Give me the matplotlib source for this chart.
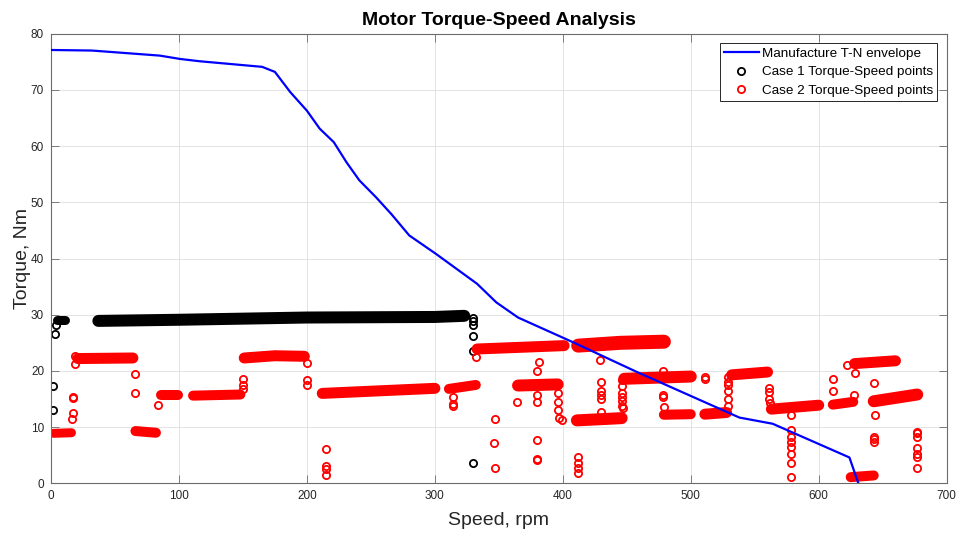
import matplotlib.pyplot as plt
from matplotlib.lines import Line2D

plt.rcParams['font.family'] = ['Liberation Sans', 'DejaVu Sans']

# manufacturer torque-speed envelope
env_rpm = [0, 32, 85, 101, 116, 165, 175, 187, 200, 210, 221, 231, 241, 254,
           266, 280, 301, 333, 348, 365, 408, 458, 538, 564, 624, 631]
env_torque = [77.1, 77.0, 76.1, 75.5, 75.1, 74.1, 73.2, 69.6, 66.3, 63.1, 60.7,
              57.1, 53.9, 50.9, 47.9, 44.1, 40.8, 35.5, 32.2, 29.5, 25.1, 19.8,
              11.7, 10.6, 4.6, 0.0]

# case 1: dense runs of points (traced as bands) + isolated points
case1_band_rpm = [[5, 11], [37, 100, 200, 300, 323]]
case1_band_torque = [[29.0, 29.0], [28.9, 29.1, 29.5, 29.6, 29.8]]
case1_pt_rpm = [1.3, 1.8, 3.1, 4, 330, 330, 330, 330, 330, 330]
case1_pt_torque = [13.0, 17.4, 26.5, 28.2, 29.5, 28.8, 28.2, 26.3, 23.6, 3.6]

# case 2
case2_band_rpm = [[2, 16], [21, 64], [66, 82], [86, 99], [111, 148],
                  [151, 175, 198], [212, 300], [311, 332], [333, 401],
                  [412, 445, 479], [365, 396], [411, 446], [448, 500],
                  [479, 500], [511, 528], [532, 560], [563, 600], [611, 627],
                  [628, 660], [643, 677], [625, 643]]
case2_band_torque = [[8.9, 9.0], [22.2, 22.3], [9.3, 9.0], [15.7, 15.7],
                     [15.6, 15.8], [22.3, 22.7, 22.6], [16.0, 16.9],
                     [16.8, 17.5], [23.9, 24.5], [24.5, 25.0, 25.2],
                     [17.4, 17.6], [11.2, 11.6], [18.6, 19.0], [12.2, 12.3],
                     [12.3, 12.6], [19.3, 19.8], [13.2, 13.9], [14.0, 14.5],
                     [21.3, 21.8], [14.6, 15.8], [1.1, 1.4]]
case2_pt_rpm = [17, 17, 17, 16.5, 18.8, 19,
                65.6, 66, 84, 150, 150, 150, 200, 200, 200,
                215, 215, 215, 215, 314, 314, 314, 332,
                347, 346, 347, 364, 381, 380, 380, 380, 380, 380, 380,
                396.5, 396.5, 396.5, 397, 399, 412, 412, 412, 412,
                429, 430, 430, 430, 430, 430,
                446, 446, 446, 446, 446, 446, 447,
                478.5, 478.5, 479, 478.5, 511, 511,
                529, 529, 529, 529, 529, 529, 561, 561, 561, 562,
                578, 578, 578, 578, 578, 578, 578, 578,
                611.4, 611.4, 627.5, 628, 622,
                643.4, 643.6, 643.4, 643.4, 643.4,
                676.5, 676.5, 676.5, 676.5, 676.5, 676.5, 676.5]
case2_pt_torque = [15.4, 15.2, 12.6, 11.5, 21.2, 22.6,
                   19.4, 16.0, 13.9, 18.5, 17.5, 16.7, 21.4, 18.3, 17.5,
                   6.1, 3.0, 2.5, 1.5, 15.4, 14.2, 13.7, 22.5,
                   11.4, 7.1, 2.7, 14.5, 21.6, 19.9, 15.8, 14.5, 7.7, 4.4, 4.2,
                   16.1, 14.5, 13.0, 11.6, 11.2, 4.7, 3.6, 2.8, 1.8,
                   21.9, 18.1, 16.5, 15.8, 15.0, 12.7,
                   18.4, 17.4, 16.1, 15.4, 14.6, 13.8, 13.4,
                   15.7, 15.4, 13.5, 19.9, 18.9, 18.6,
                   18.9, 18.0, 17.5, 16.5, 15.0, 13.8, 16.9, 16.2, 15.0, 14.3,
                   12.2, 9.5, 8.3, 7.4, 6.5, 5.3, 3.7, 1.2,
                   18.6, 16.5, 15.7, 19.7, 21.0,
                   17.9, 12.2, 8.3, 7.8, 7.4,
                   9.2, 8.9, 8.3, 6.2, 5.3, 4.7, 2.8]

# band thickness in pixels
case1_band_px = [9, 12]
case2_band_px = [9, 11, 10, 10, 10, 11, 11, 10, 11, 14, 12, 12, 12, 10, 11,
                 11, 11, 10, 11, 12, 10]

fig = plt.figure(figsize=(9.57, 5.33), dpi=100)
ax = fig.add_axes([0.0533, 0.0932, 0.9359, 0.8436])

ax.plot(env_rpm, env_torque, color='#0000ff', lw=1.6, zorder=4)

def draw_case(band_x, band_y, band_w, pt_x, pt_y, col):
    for bx, by, w in zip(band_x, band_y, band_w):
        ax.plot(bx, by, color=col, lw=w * 0.72, solid_capstyle='round',
                solid_joinstyle='round', zorder=2)
    ax.plot(pt_x, pt_y, 'o', ls='none', mfc='none', mec=col, ms=5.2,
            mew=1.3, zorder=2)

draw_case(case1_band_rpm, case1_band_torque, case1_band_px,
          case1_pt_rpm, case1_pt_torque, 'black')
draw_case(case2_band_rpm, case2_band_torque, case2_band_px,
          case2_pt_rpm, case2_pt_torque, '#ff0000')

ax.set_xlim(0, 700)
ax.set_ylim(0, 80)
ax.set_xticks(range(0, 701, 100))
ax.set_yticks(range(0, 81, 10))
ax.grid(True, color='#e3e3e3', lw=0.7, zorder=0)
ax.set_axisbelow(True)
for s in ax.spines.values():
    s.set_color('#6b6b6b')
    s.set_linewidth(0.8)
ax.tick_params(direction='in', top=True, right=True, length=6, width=0.6,
               color='#6b6b6b', labelcolor='#262626', labelsize=8.5, pad=5)

ax.set_xlabel('Speed, rpm', fontsize=14, color='#262626', labelpad=7)
ax.set_ylabel('Torque, Nm', fontsize=14, color='#262626', labelpad=0)
ax.set_title('Motor Torque-Speed Analysis', fontsize=14, fontweight='bold', pad=6)

handles = [
    Line2D([], [], color='#0000ff', lw=1.6),
    Line2D([], [], ls='none', marker='o', mfc='none', mec='black', ms=5.2, mew=1.3),
    Line2D([], [], ls='none', marker='o', mfc='none', mec='#ff0000', ms=5.2, mew=1.3),
]
labels = ['Manufacture T-N envelope', 'Case 1 Torque-Speed points',
          'Case 2 Torque-Speed points']
leg = ax.legend(handles, labels, loc='upper right', bbox_to_anchor=(0.9895, 0.9786),
                borderaxespad=0, fontsize=9.7, handlelength=2.6, handletextpad=0.25,
                borderpad=0.3, labelspacing=0.45, fancybox=False, framealpha=1)
leg.get_frame().set_edgecolor('#262626')
leg.get_frame().set_linewidth(0.7)

fig.savefig('out.png', dpi=100)
